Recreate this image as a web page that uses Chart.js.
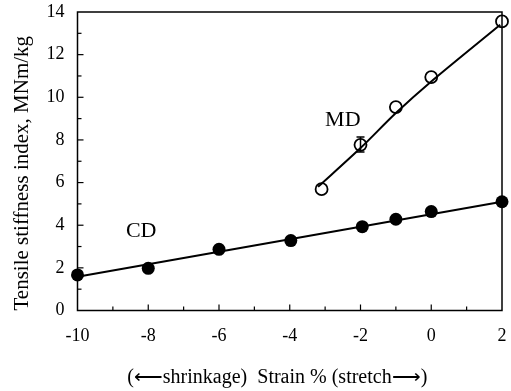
<!DOCTYPE html>
<html>
<head>
<meta charset="utf-8">
<script src="https://cdn.jsdelivr.net/npm/chart.js@4"></script>
<style>
  html, body { margin: 0; padding: 0; background: #fff; }
  #wrap { width: 511px; height: 391px; }
</style>
</head>
<body>
<div id="wrap"><canvas id="stiffChart" width="511" height="391"></canvas></div>
<script>
// measured points
const cdStrain = [-10, -8, -6, -3.97, -1.95, -1, 0, 2];
const cdIndex = [1.67, 1.98, 2.87, 3.28, 3.93, 4.28, 4.64, 5.1];
const mdStrain = [-3.1, -2, -1, 0, 2];
const mdIndex = [5.69, 7.77, 9.54, 10.95, 13.56];

// fitted lines
const cdFitStrain = [-10, 2];
const cdFitIndex = [1.58, 5.1];
const mdFitStrain = [-3.2, -2, -1, 0, 1.95];
const mdFitIndex = [5.8, 7.62, 9.26, 10.74, 13.4];

// error bar on MD at -2
const mdErrStrain = [-2];
const mdErrLow = [7.43];
const mdErrHigh = [8.14];

const xTicks = [-10, -8, -6, -4, -2, 0, 2];
const yTicks = [0, 2, 4, 6, 8, 10, 12, 14];

const serif = "'Liberation Serif', 'Times New Roman', serif";

function toXY(xs, ys) {
    return xs.map((x, i) => ({ x: x, y: ys[i] }));
}

const frame = {
    id: 'frame',
    afterDatasetsDraw(chart) {
        const c = chart.ctx;
        const a = chart.chartArea;
        const xs = chart.scales.x, ys = chart.scales.y;
        c.save();
        c.strokeStyle = '#000';
        c.lineWidth = 1.5;
        c.strokeRect(a.left, a.top, a.right - a.left, a.bottom - a.top);
        // inward ticks, every 1 unit
        c.lineWidth = 1.2;
        for (let v = -9; v <= 1; v++) {
            const px = xs.getPixelForValue(v);
            c.beginPath();
            c.moveTo(px, a.bottom);
            c.lineTo(px, a.bottom - (v % 2 === 0 ? 6 : 4));
            c.stroke();
        }
        for (let v = 1; v <= 13; v++) {
            const py = ys.getPixelForValue(v);
            c.beginPath();
            c.moveTo(a.left, py);
            c.lineTo(a.left + (v % 2 === 0 ? 6 : 4), py);
            c.stroke();
        }
        // error bar
        c.lineWidth = 1.5;
        mdErrStrain.forEach((s, i) => {
            const px = xs.getPixelForValue(s);
            const lo = ys.getPixelForValue(mdErrLow[i]);
            const hi = ys.getPixelForValue(mdErrHigh[i]);
            c.beginPath();
            c.moveTo(px, lo); c.lineTo(px, hi);
            c.moveTo(px - 4, lo); c.lineTo(px + 4, lo);
            c.moveTo(px - 4, hi); c.lineTo(px + 4, hi);
            c.stroke();
        });
        // series labels
        c.fillStyle = '#000';
        c.font = '22px ' + serif;
        c.textAlign = 'center';
        c.textBaseline = 'middle';
        c.fillText('MD', xs.getPixelForValue(-2.5), ys.getPixelForValue(8.94));
        c.fillText('CD', xs.getPixelForValue(-8.2), ys.getPixelForValue(3.7));
        c.restore();
    }
};

const ctx = document.getElementById('stiffChart').getContext('2d');
const chart = new Chart(ctx, {
    type: 'scatter',
    data: {
        datasets: [
            {
                label: 'CD fit',
                data: toXY(cdFitStrain, cdFitIndex),
                showLine: true,
                borderColor: '#000',
                borderWidth: 2,
                pointRadius: 0,
                clip: false
            },
            {
                label: 'MD fit',
                data: toXY(mdFitStrain, mdFitIndex),
                showLine: true,
                borderColor: '#000',
                borderWidth: 2,
                pointRadius: 0,
                tension: 0.3,
                clip: false
            },
            {
                label: 'CD',
                data: toXY(cdStrain, cdIndex),
                backgroundColor: '#000',
                borderColor: '#000',
                pointRadius: 6.5,
                borderWidth: 0,
                clip: false
            },
            {
                label: 'MD',
                data: toXY(mdStrain, mdIndex),
                backgroundColor: '#fff',
                borderColor: '#000',
                pointRadius: 6,
                borderWidth: 1.8,
                clip: false
            }
        ]
    },
    options: {
        responsive: false,
        animation: false,
        layout: { padding: { left: 0, right: 9, top: 12, bottom: 0 } },
        plugins: {
            legend: { display: false },
            tooltip: { enabled: false }
        },
        scales: {
            x: {
                type: 'linear',
                min: -10,
                max: 2,
                afterBuildTicks: (s) => { s.ticks = xTicks.map(v => ({ value: v })); },
                afterFit: (s) => {
                    s.height = 80.5;
                    s.paddingLeft = 0;
                    s.paddingRight = 0;
                },
                grid: { display: false, drawTicks: false },
                border: { display: false },
                ticks: {
                    color: '#000',
                    padding: 15,
                    maxRotation: 0,
                    font: { family: serif, size: 18 }
                },
                title: {
                    display: true,
                    text: '(\u27F5shrinkage)  Strain % (stretch\u27F6)     ',
                    color: '#000',
                    padding: { top: 0, bottom: 1 },
                    font: { family: serif, size: 20 }
                }
            },
            y: {
                type: 'linear',
                min: 0,
                max: 14,
                afterBuildTicks: (s) => { s.ticks = yTicks.map(v => ({ value: v })); },
                afterFit: (s) => {
                    s.width = 77.5;
                    s.paddingTop = 0;
                    s.paddingBottom = 0;
                },
                grid: { display: false, drawTicks: false },
                border: { display: false },
                ticks: {
                    color: '#000',
                    padding: 13,
                    font: { family: serif, size: 18 }
                },
                title: {
                    display: true,
                    align: 'start',
                    text: 'Tensile stiffness index, MNm/kg',
                    color: '#000',
                    padding: { top: 10, bottom: 0 },
                    font: { family: serif, size: 21 }
                }
            }
        }
    },
    plugins: [frame]
});
</script>
</body>
</html>
